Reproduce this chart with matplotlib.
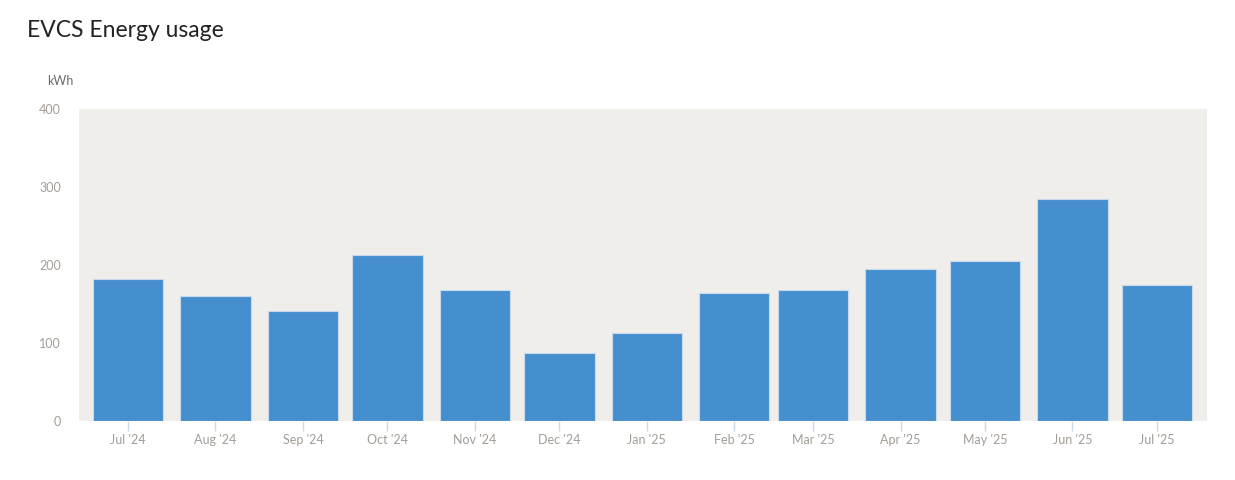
import datetime as dt
import matplotlib
matplotlib.use("Agg")
import matplotlib.pyplot as plt
import matplotlib.dates as mdates

# Monthly EVCS energy usage (kWh)
months = [dt.date(2024, m, 1) for m in range(7, 13)] + [dt.date(2025, m, 1) for m in range(1, 8)]
labels = ["Jul '24", "Aug '24", "Sep '24", "Oct '24", "Nov '24", "Dec '24",
          "Jan '25", "Feb '25", "Mar '25", "Apr '25", "May '25", "Jun '25", "Jul '25"]
usage = [182, 161, 141, 213, 168, 88, 113, 165, 168, 195, 205, 285, 175]

plt.rcParams['font.family'] = ['Lato', 'DejaVu Sans']

fig = plt.figure(figsize=(12.35, 4.8), dpi=100)
ax = fig.add_axes([0.064, 0.1219, 0.9133, 0.651])
ax.set_facecolor("#efeeeb")

x = mdates.date2num(months)
ax.bar(x, usage, width=25, align="center", color="#468fcf",
       edgecolor="#c9d9ec", linewidth=0.8, zorder=2)

ax.set_xlim(x[0] - 17.4, x[-1] + 17.7)
ax.set_ylim(0, 400)
ax.set_yticks([0, 100, 200, 300, 400])
ax.set_xticks(x)
ax.set_xticklabels(labels)

for s in ax.spines.values():
    s.set_visible(False)

ax.tick_params(axis="y", length=0, pad=13, labelsize=9, labelcolor="#a39d96")
ax.tick_params(axis="x", length=7, width=1, color="#ccd6eb", pad=2,
               labelsize=9, labelcolor="#a39d96")

fig.text(0.0219, 0.937, "EVCS Energy usage", fontsize=16.5, color="#222222",
         va="center", ha="left")
fig.text(0.038, 0.831, "kWh", fontsize=9, color="#6b6b6b", va="center", ha="left")

fig.savefig("out.png", dpi=100)
